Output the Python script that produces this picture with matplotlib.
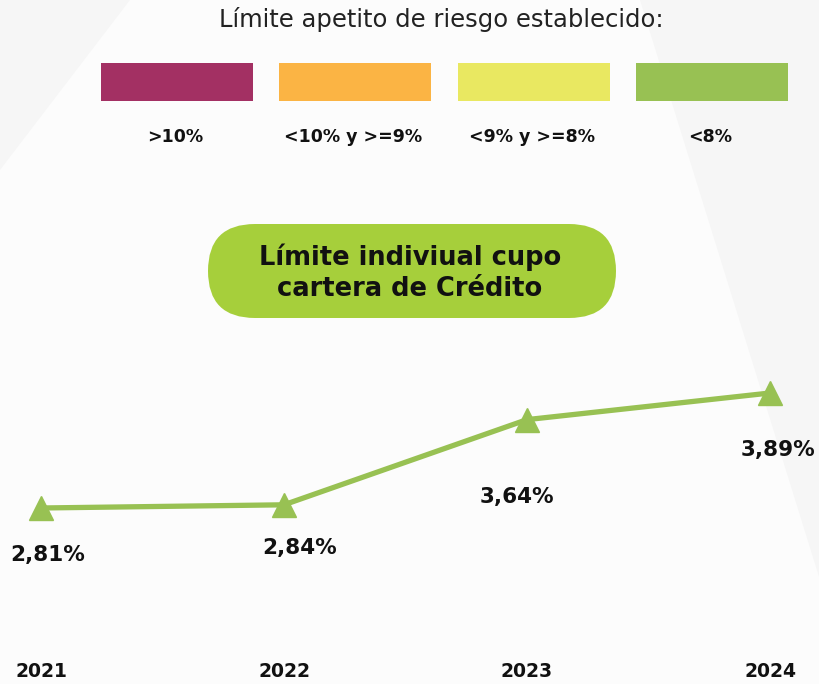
import matplotlib
matplotlib.use("Agg")
import matplotlib.pyplot as plt
from matplotlib.patches import FancyBboxPatch, Rectangle, Polygon

# ── Data ──────────────────────────────────────────────────────────────────────
years = [2021, 2022, 2023, 2024]
values = [2.81, 2.84, 3.64, 3.89]
value_labels = ["2,81%", "2,84%", "3,64%", "3,89%"]

legend_title = "Límite apetito de riesgo establecido:"
legend_labels = [">10%", "<10% y >=9%", "<9% y >=8%", "<8%"]
legend_colors = ["#a33063", "#fbb444", "#e9e861", "#98c153"]

box_title = "Límite indiviual cupo\ncartera de Crédito"

# ── Style ─────────────────────────────────────────────────────────────────────
FONT = "DejaVu Sans"
LINE_GREEN = "#98c153"
PILL_GREEN = "#a6cf3b"
TEXT = "#111111"
label_offsets = [(5, -34), (11, -31), (-7, -56), (6, -41)]   # points

fig = plt.figure(figsize=(8.2, 6.84), dpi=100)
fig.patch.set_facecolor("#f6f6f6")

# pixel-space background layer
bg = fig.add_axes([0, 0, 1, 1])
bg.set_xlim(0, 820)
bg.set_ylim(684, 0)
bg.axis("off")
bg.add_patch(Polygon([(130, 0), (640, 0), (820, 580), (820, 684), (0, 684), (0, 170)],
                     closed=True, facecolor="#fcfcfc", edgecolor="none", zorder=0))

# legend header
bg.text(441, 20, legend_title, ha="center", va="center", fontsize=17.5,
        family=FONT, fontweight="normal", color="#222222")
lx = [101, 279, 458, 636]
for x, c, lab in zip(lx, legend_colors, legend_labels):
    bg.add_patch(Rectangle((x, 63), 152, 38, facecolor=c, edgecolor="none", zorder=2))
    bg.text(x + 74, 137, lab, ha="center", va="center", fontsize=12.5,
            family=FONT, fontweight="bold", color=TEXT)

# pill title
bg.add_patch(FancyBboxPatch((208, 224), 408, 94,
                            boxstyle="round,pad=0,rounding_size=47",
                            facecolor=PILL_GREEN, edgecolor="none", zorder=2))
bg.text(410, 273, box_title, ha="center", va="center", fontsize=18.5,
        family=FONT, fontweight="bold", color=TEXT, linespacing=1.25, zorder=3)

# ── Line chart ────────────────────────────────────────────────────────────────
ax = fig.add_axes([41 / 820, 1 - 508 / 684, 729 / 820, 115 / 684])
ax.patch.set_alpha(0)
ax.plot(years, values, color=LINE_GREEN, linewidth=3.8, marker="^",
        markersize=17, clip_on=False, zorder=3)
ax.set_xlim(years[0], years[-1])
ax.set_ylim(values[0], values[-1])

for x, y, lab, off in zip(years, values, value_labels, label_offsets):
    ax.annotate(lab, (x, y), xytext=off, textcoords="offset points",
                ha="center", va="center", fontsize=15.5, family=FONT,
                fontweight="bold", color=TEXT, annotation_clip=False)

ax.set_xticks(years)
ax.set_xticklabels([str(y) for y in years], fontsize=13.5, family=FONT,
                   fontweight="bold", color=TEXT)
ax.tick_params(axis="x", length=0, pad=111)
ax.set_yticks([])
for s in ax.spines.values():
    s.set_visible(False)

fig.savefig("out.png", dpi=100, facecolor=fig.get_facecolor())
